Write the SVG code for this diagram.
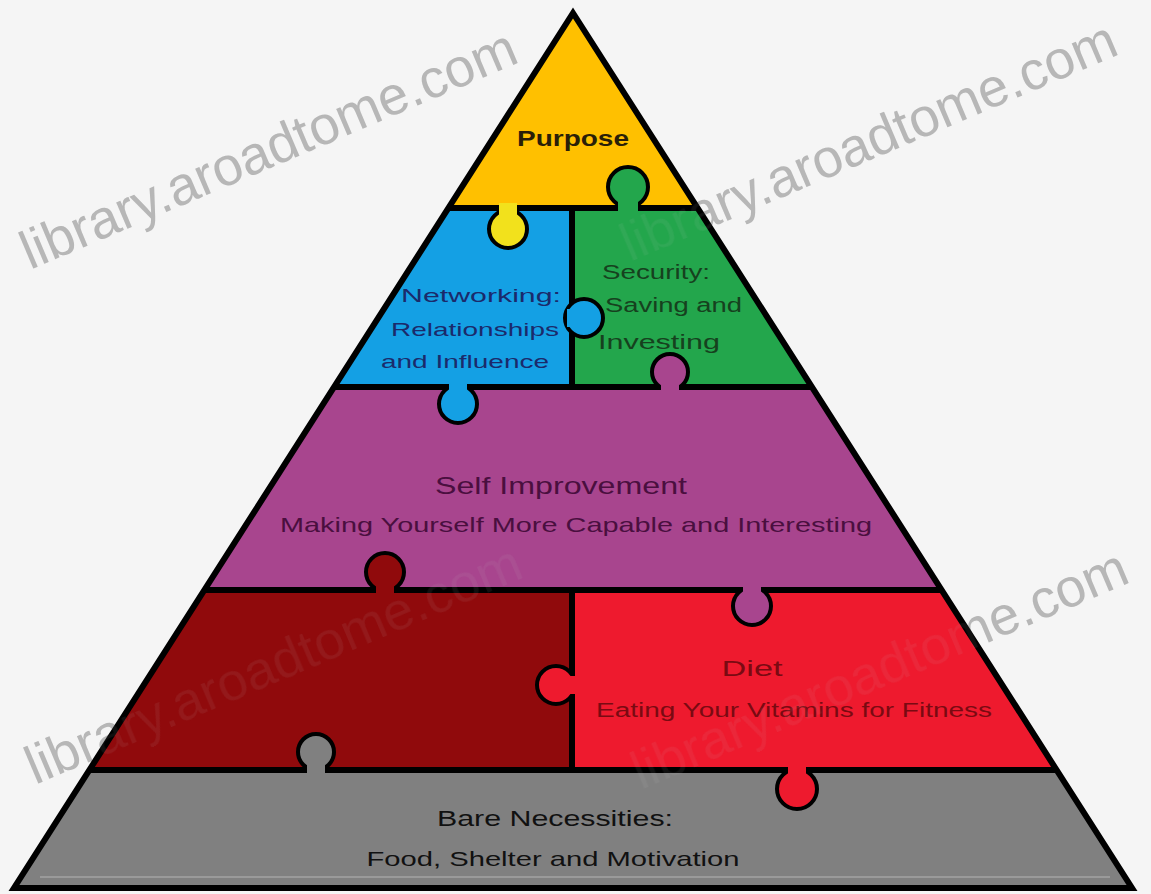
<svg xmlns="http://www.w3.org/2000/svg" width="1151" height="894" viewBox="0 0 1151 894">
<style>
.band{stroke:none}
.sep{stroke:#000;stroke-width:6;fill:none}
.knob{stroke:#000;stroke-width:4}
.t{font-family:"Liberation Sans",Arial,sans-serif;text-anchor:middle}
.wm{font-family:"Liberation Sans",Arial,sans-serif;font-size:54px;fill:#b6b6b6}
.wm2{font-family:"Liberation Sans",Arial,sans-serif;font-size:54px;fill:#c8c8c8;opacity:0.08}
</style>
<defs>
<g id="wmset">
<text x="30" y="270" transform="rotate(-23 30 270)">library.aroadtome.com</text>
<text x="630" y="262" transform="rotate(-23 630 262)">library.aroadtome.com</text>
<text x="35" y="785" transform="rotate(-23 35 785)">library.aroadtome.com</text>
<text x="641" y="790" transform="rotate(-23 641 790)">library.aroadtome.com</text>
</g>
</defs>
<rect x="0" y="0" width="1151" height="894" fill="#f5f5f5"/>
<g id="watermarks" class="wm">
<use href="#wmset"/>
</g>
<g id="purpose">
<polygon class="band" points="573,13 697.6,208 448.4,208" fill="#FFC000"/>
<text class="t" x="573" y="146" font-size="22" font-weight="bold" fill="#2a1f08" textLength="112" lengthAdjust="spacingAndGlyphs">Purpose</text>
</g>
<g id="networking">
<polygon class="band" points="448.4,208 572,208 572,387 334,387" fill="#14A0E4"/>
<text class="t" x="481" y="302" font-size="19" fill="#1b2a6b" textLength="160" lengthAdjust="spacingAndGlyphs">Networking:</text>
<text class="t" x="475" y="336" font-size="19" fill="#1b2a6b" textLength="168" lengthAdjust="spacingAndGlyphs">Relationships</text>
<text class="t" x="465" y="368" font-size="19" fill="#1b2a6b" textLength="168" lengthAdjust="spacingAndGlyphs">and Influence</text>
</g>
<g id="security">
<polygon class="band" points="572,208 697.6,208 812,387 572,387" fill="#23A64C"/>
<text x="602" y="279" font-family="Liberation Sans, Arial, sans-serif" font-size="20" fill="#16411e" textLength="108" lengthAdjust="spacingAndGlyphs">Security:</text>
<text x="605" y="312" font-family="Liberation Sans, Arial, sans-serif" font-size="20" fill="#16411e" textLength="137" lengthAdjust="spacingAndGlyphs">Saving and</text>
<text x="598" y="349" font-family="Liberation Sans, Arial, sans-serif" font-size="20" fill="#16411e" textLength="122" lengthAdjust="spacingAndGlyphs">Investing</text>
</g>
<g id="self-improvement">
<polygon class="band" points="334,387 812,387 941.6,590 204.4,590" fill="#A8458E"/>
<text class="t" x="561" y="494" font-size="24" fill="#4a0f3f" textLength="252" lengthAdjust="spacingAndGlyphs">Self Improvement</text>
<text class="t" x="576" y="532" font-size="21" fill="#4a0f3f" textLength="592" lengthAdjust="spacingAndGlyphs">Making Yourself More Capable and Interesting</text>
</g>
<g id="health">
<polygon class="band" points="204.4,590 572,590 572,770 89.4,770" fill="#900A0C"/>
</g>
<g id="diet">
<polygon class="band" points="572,590 941.6,590 1056.6,770 572,770" fill="#EE1A2E"/>
<text class="t" x="752" y="676" font-size="22" fill="#7a0a12" textLength="61" lengthAdjust="spacingAndGlyphs">Diet</text>
<text class="t" x="794" y="717" font-size="20" fill="#7a0a12" textLength="396" lengthAdjust="spacingAndGlyphs">Eating Your Vitamins for Fitness</text>
</g>
<g id="bare-necessities">
<polygon class="band" points="89.4,770 1056.6,770 1132,888 14,888" fill="#808080"/>
<line x1="40" y1="877" x2="1110" y2="877" stroke="#9a9a9a" stroke-width="2"/>
<text class="t" x="555" y="826" font-size="22" fill="#111" textLength="236" lengthAdjust="spacingAndGlyphs">Bare Necessities:</text>
<text class="t" x="553" y="866" font-size="21" fill="#111" textLength="373" lengthAdjust="spacingAndGlyphs">Food, Shelter and Motivation</text>
</g>
<g id="outlines">
<line class="sep" x1="448.4" y1="208" x2="697.6" y2="208"/>
<line class="sep" x1="334" y1="387" x2="812" y2="387"/>
<line class="sep" x1="204.4" y1="590" x2="941.6" y2="590"/>
<line class="sep" x1="89.4" y1="770" x2="1056.6" y2="770"/>
<line class="sep" x1="572" y1="208" x2="572" y2="387" stroke-width="5"/>
<line class="sep" x1="572" y1="590" x2="572" y2="770" stroke-width="5"/>
<polygon class="sep" points="573,13 1132,888 14,888" stroke-width="6" stroke-linejoin="miter"/>
</g>
<g id="connectors">
<circle class="knob" cx="628" cy="187" r="20" fill="#23A64C"/>
<rect x="618" y="195" width="20" height="18" fill="#23A64C"/>
<circle class="knob" cx="508" cy="229" r="19" fill="#F2E11C"/>
<rect x="499" y="203" width="18" height="18" fill="#F2E11C"/>
<circle class="knob" cx="584" cy="318" r="19" fill="#14A0E4"/>
<rect x="567" y="309" width="17" height="18" fill="#14A0E4"/>
<circle class="knob" cx="670" cy="372" r="18" fill="#A8458E"/>
<rect x="661" y="378" width="18" height="14" fill="#A8458E"/>
<circle class="knob" cx="458" cy="404" r="19" fill="#14A0E4"/>
<rect x="449" y="382" width="18" height="16" fill="#14A0E4"/>
<circle class="knob" cx="385" cy="572" r="19" fill="#900A0C"/>
<rect x="376" y="578" width="18" height="16" fill="#900A0C"/>
<circle class="knob" cx="752" cy="606" r="19" fill="#A8458E"/>
<rect x="743" y="585" width="18" height="16" fill="#A8458E"/>
<circle class="knob" cx="556" cy="685" r="19" fill="#EE1A2E"/>
<rect x="560" y="676" width="17" height="18" fill="#EE1A2E"/>
<circle class="knob" cx="316" cy="752" r="18" fill="#808080"/>
<rect x="307" y="758" width="18" height="16" fill="#808080"/>
<circle class="knob" cx="797" cy="789" r="20" fill="#EE1A2E"/>
<rect x="788" y="765" width="18" height="18" fill="#EE1A2E"/>
</g>
<g id="watermark-overlay" class="wm2">
<use href="#wmset"/>
</g>
</svg>
